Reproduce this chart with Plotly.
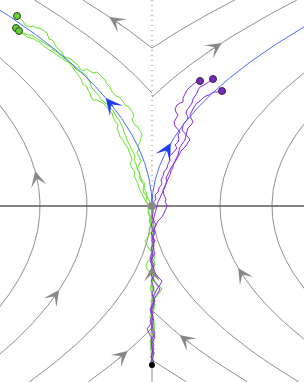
import numpy as np
import plotly.graph_objects as go

# ---------------- data (chart coordinates: origin = bifurcation point) ----------------
X_RANGE = [-152, 152]
Y_RANGE = [-176, 206]

# streamline family |x| = a*y^2 + C, different spread on each side
A_LEFT = 0.00396
A_RIGHT = 0.00474

left_crossings = [112, 65]          # |x| where "(" curves cut the horizontal axis
right_crossings = [68, 120]
left_top_vertices = [158, 113]      # y where the upper "V" curves leave the axis
right_top_vertices = [158, 109]
left_bottom_vertices = [0, -122]    # y where the lower curves join the axis
right_bottom_vertices = [0, -104, -154]

# gray arrows: side, family, parameter, y of arrow
arrow_side = ["L", "R", "L", "L", "L", "R", "R", "C"]
arrow_kind = ["top", "top", "cross", "cross", "bottom", "cross", "bottom", "axis"]
arrow_param = [158, 109, 112, 65, -122, 68, -104, 0]
arrow_y = [182, 156, 28, -91, -152, -69, -136, -67]

# blue arrows on the stable branches: side, y
blue_arrow_side = ["L", "R"]
blue_arrow_y = [100, 55]

# noisy trajectories: common lower part (y values) then individual x values
LOWER_Y = [-159, -155, -151, -147, -143, -139, -135, -131, -127, -123,
           -119, -115, -111, -107, -103, -99, -95, -91, -87, -83,
           -79, -75, -71, -67, -63, -59, -55, -51, -47, -43,
           -39, -35, -31, -27, -23, -19, -15, -11, -7, -3]

g1_lower_x = [0, 1, -1, 2, 0, -1, 1, 2, -1, 0, 2, 0, -2, 1, 2, 0, -1, 1, 3, 1,
              -1, 1, 0, -2, -5, -6, -4, -1, 0, -3, -5, -7, -4, -2, -3, -1, -3, -2, -4, -3]
g2_lower_x = [0, -1, 1, 0, -2, 0, 2, 1, -1, 1, 3, 1, -1, 0, 2, 3, 1, 4, 7, 10,
              6, 3, 1, 2, 0, -1, 1, 3, 1, -1, 0, 2, 1, -1, 1, 0, -2, -1, -3, -4]
g3_lower_x = [0, 2, 0, -1, 1, -1, -2, 0, 1, 3, 1, -1, -2, 0, 1, -1, 0, 2, 0, -2,
              -1, 1, 2, 0, 1, 3, 2, 0, -1, 1, 2, 0, -1, 1, 0, 2, 0, -1, 1, -1]
p1_lower_x = [0, -1, 1, 2, 0, -1, 1, 3, 1, -1, 0, 2, 1, -1, -2, 0, 2, 1, 3, 5,
              8, 10, 6, 3, 1, 2, 0, -2, 0, 2, 1, 3, 1, -1, 2, 4, 2, 0, 1, 1]
p2_lower_x = [0, 1, -1, 0, 2, 0, -1, 1, 3, 1, 0, -2, 0, 1, -1, 1, 3, 1, 0, 2,
              1, -1, 1, 3, 2, 0, -1, 1, 3, 1, 2, 0, 1, 3, 2, 4, 6, 10, 12, 14]
p3_lower_x = [0, 1, -1, 1, 0, 2, 0, -1, -3, -5, -2, 0, 1, -1, 0, 2, 1, 3, 6, 8,
              5, 2, 0, -1, 1, 0, -2, 0, 1, -1, 1, 2, 0, 2, 1, -1, 1, 2, 3, 4]

g1_upper = [(-4, 1), (-6, 5), (-5, 9), (-8, 13), (-9, 17), (-8, 21), (-11, 25), (-13, 29), (-12, 33),
            (-15, 37), (-13, 41), (-11, 45), (-13, 49), (-15, 54), (-13, 57), (-14, 60), (-12, 64),
            (-11, 68), (-10, 72), (-12, 75), (-14, 79), (-17, 81), (-19, 84), (-20, 87), (-18, 90),
            (-19, 93), (-21, 96), (-23, 99), (-27, 101), (-30, 106), (-33, 109), (-36, 110),
            (-39, 113), (-41, 116), (-42, 119), (-45, 122), (-47, 126), (-50, 129), (-52, 132),
            (-55, 134), (-59, 133), (-62, 135), (-65, 137), (-69, 135), (-72, 137), (-74, 141),
            (-77, 144), (-80, 146), (-83, 148), (-86, 148), (-89, 151), (-90, 154), (-93, 156),
            (-95, 159), (-97, 161), (-98, 164), (-100, 166), (-103, 167), (-104, 170), (-105, 173),
            (-108, 175), (-112, 178), (-115, 178), (-119, 180), (-123, 179), (-127, 181),
            (-129, 185), (-132, 188), (-135, 190)]
g2_upper = [(-4, 2), (-7, 6), (-9, 10), (-11, 14), (-13, 18), (-14, 22), (-16, 26), (-18, 30),
            (-17, 34), (-20, 38), (-22, 42), (-20, 46), (-21, 50), (-23, 54), (-24, 58), (-27, 62),
            (-29, 66), (-32, 69), (-33, 73), (-35, 77), (-34, 81), (-37, 85), (-39, 89), (-40, 93),
            (-43, 96), (-45, 99), (-48, 102), (-52, 104), (-55, 106), (-59, 106), (-61, 109),
            (-62, 113), (-64, 116), (-65, 119), (-68, 121), (-70, 124), (-71, 127), (-73, 130),
            (-76, 134), (-79, 137), (-81, 140), (-83, 143), (-85, 146), (-88, 148), (-92, 151),
            (-95, 154), (-99, 156), (-101, 159), (-105, 161), (-109, 164), (-113, 166), (-117, 169),
            (-120, 171), (-124, 171), (-129, 173), (-132, 176), (-136, 178)]
g3_upper = [(-2, 2), (-3, 6), (-5, 10), (-6, 14), (-8, 18), (-7, 22), (-10, 26), (-12, 30),
            (-13, 34), (-15, 38), (-16, 42), (-18, 46), (-17, 50), (-19, 54), (-21, 58), (-23, 62),
            (-25, 66), (-26, 70), (-28, 74), (-29, 78), (-31, 82), (-33, 86), (-36, 90), (-38, 94),
            (-42, 98), (-45, 102), (-49, 105), (-52, 109), (-54, 111), (-56, 114), (-58, 116),
            (-60, 118), (-61, 121), (-62, 124), (-64, 127), (-66, 131), (-69, 133), (-71, 134),
            (-75, 136), (-78, 139), (-80, 142), (-84, 144), (-87, 145), (-89, 147), (-92, 149),
            (-95, 151), (-99, 153), (-102, 155), (-104, 157), (-108, 159), (-110, 161), (-112, 164),
            (-115, 165), (-118, 167), (-122, 168), (-125, 169), (-127, 171), (-130, 173), (-133, 175)]

p1_upper = [(1, 3), (4, 7), (3, 11), (6, 14), (7, 18), (10, 22), (9, 26), (11, 30), (12, 34),
            (15, 38), (16, 42), (18, 46), (17, 50), (20, 52), (23, 55), (25, 58), (23, 61), (26, 64),
            (27, 67), (26, 71), (28, 74), (25, 77), (23, 80), (22, 84), (24, 88), (26, 91), (24, 94),
            (23, 97), (25, 101), (28, 103), (31, 104), (31, 108), (33, 112), (35, 116), (38, 119),
            (41, 122), (44, 124), (48, 125)]
p2_upper = [(15, 1), (13, 4), (14, 7), (12, 11), (11, 16), (13, 20), (15, 24), (14, 28), (16, 32),
            (18, 36), (20, 40), (23, 44), (25, 47), (27, 51), (29, 55), (31, 57), (34, 60), (36, 64),
            (38, 66), (36, 69), (33, 72), (30, 76), (31, 80), (32, 83), (35, 86), (36, 89), (34, 93),
            (35, 96), (38, 100), (40, 103), (41, 107), (43, 110), (45, 113), (46, 116), (48, 119),
            (52, 121), (55, 123), (58, 125), (61, 127)]
p3_upper = [(5, 1), (6, 4), (8, 8), (9, 11), (11, 15), (13, 19), (14, 23), (16, 27), (18, 31),
            (19, 35), (21, 39), (22, 43), (24, 47), (26, 51), (27, 55), (28, 59), (30, 62), (33, 66),
            (34, 71), (35, 75), (36, 78), (39, 81), (41, 84), (39, 88), (38, 91), (40, 95), (42, 99),
            (45, 103), (48, 105), (51, 108), (54, 110), (57, 111), (60, 113), (63, 114), (66, 114),
            (70, 115)]

start_point = (0, -159)

# ---------------- style ----------------
GRAY = "#8f8f8f"
AXIS = "#5a5a5a"
GREEN = "#66e22e"
PURPLE = "#8a2be2"
BLUE_LINE = "#4a6bff"
BLUE_ARROW = "#1f3cf5"


def coef(side):
    return A_LEFT if side == "L" else A_RIGHT


def sgn(side):
    return -1.0 if side == "L" else 1.0


def curve_x(side, kind, p, y):
    a = coef(side)
    if kind == "cross":
        return sgn(side) * (p + a * y * y)
    if kind == "axis":
        return 0.0 * y
    return sgn(side) * a * (y * y - p * p)


def curve_y(kind, p):
    if kind == "cross":
        return np.linspace(Y_RANGE[0], Y_RANGE[1], 400)
    if kind == "top":
        return np.linspace(p, Y_RANGE[1], 300)
    return np.linspace(Y_RANGE[0], p, 300)


fig = go.Figure()


def add_line(x, y, color, width=1.0, dash=None):
    fig.add_trace(go.Scatter(x=x, y=y, mode="lines", hoverinfo="skip",
                             line=dict(color=color, width=width, dash=dash)))


# gray streamlines
families = [("L", "cross", left_crossings), ("R", "cross", right_crossings),
            ("L", "top", left_top_vertices), ("R", "top", right_top_vertices),
            ("L", "bottom", left_bottom_vertices), ("R", "bottom", right_bottom_vertices)]
for side, kind, params in families:
    for p in params:
        ys = curve_y(kind, p)
        add_line(curve_x(side, kind, p, ys), ys, GRAY, 1.0)

# axes
add_line([0, 0], [Y_RANGE[0], 0], GRAY, 1.0)
add_line([0, 0], [0, Y_RANGE[1]], "#9a9a9a", 1.3, dash="1px,4px")
add_line([X_RANGE[0], X_RANGE[1]], [0, 0], AXIS, 1.3)


def traj(lower_x, upper):
    xs = [start_point[0]] + list(lower_x) + [q[0] for q in upper]
    ys = [start_point[1]] + list(LOWER_Y) + [q[1] for q in upper]
    return xs, ys


for lx, up in [(g1_lower_x, g1_upper), (g2_lower_x, g2_upper), (g3_lower_x, g3_upper)]:
    xs, ys = traj(lx, up)
    add_line(xs, ys, GREEN, 1.0)
for lx, up in [(p1_lower_x, p1_upper), (p2_lower_x, p2_upper), (p3_lower_x, p3_upper)]:
    xs, ys = traj(lx, up)
    add_line(xs, ys, PURPLE, 1.0)

# blue stable branches
for side in ["L", "R"]:
    ys = curve_y("top", 0)
    add_line(curve_x(side, "top", 0, ys), ys, BLUE_LINE, 1.0)

# markers
fig.add_trace(go.Scatter(x=[0], y=[0], mode="markers", hoverinfo="skip",
                         marker=dict(size=8, color="#8a8a8a")))
fig.add_trace(go.Scatter(x=[start_point[0]], y=[start_point[1]], mode="markers", hoverinfo="skip",
                         marker=dict(size=6, color="black")))
fig.add_trace(go.Scatter(x=[g1_upper[-1][0], g2_upper[-1][0], g3_upper[-1][0]],
                         y=[g1_upper[-1][1], g2_upper[-1][1], g3_upper[-1][1]],
                         mode="markers", hoverinfo="skip",
                         marker=dict(size=7, color="#5ed42c", line=dict(color="#3a3a3a", width=1))))
fig.add_trace(go.Scatter(x=[p1_upper[-1][0], p2_upper[-1][0], p3_upper[-1][0]],
                         y=[p1_upper[-1][1], p2_upper[-1][1], p3_upper[-1][1]],
                         mode="markers", hoverinfo="skip",
                         marker=dict(size=7, color="#7a26c9", line=dict(color="#2e2e2e", width=1))))

# arrows
annotations = []
for side, kind, p, yc in zip(arrow_side, arrow_kind, arrow_param, arrow_y):
    yt, ya = yc + 7, yc - 2
    annotations.append(dict(
        x=float(curve_x(side, kind, p, yt)), y=yt,
        ax=float(curve_x(side, kind, p, ya)), ay=ya,
        xref="x", yref="y", axref="x", ayref="y", text="",
        showarrow=True, arrowhead=3, arrowsize=2.6, arrowwidth=1, arrowcolor="#888888"))
for side, yc in zip(blue_arrow_side, blue_arrow_y):
    yt, ya = yc + 8, yc - 2
    annotations.append(dict(
        x=float(curve_x(side, "top", 0, yt)), y=yt,
        ax=float(curve_x(side, "top", 0, ya)), ay=ya,
        xref="x", yref="y", axref="x", ayref="y", text="",
        showarrow=True, arrowhead=3, arrowsize=2.8, arrowwidth=1, arrowcolor=BLUE_ARROW))

fig.update_layout(
    width=304, height=382,
    margin=dict(l=0, r=0, t=0, b=0),
    paper_bgcolor="white", plot_bgcolor="white",
    showlegend=False,
    xaxis=dict(range=X_RANGE, visible=False, fixedrange=True),
    yaxis=dict(range=Y_RANGE, visible=False, fixedrange=True),
    annotations=annotations,
)

fig.write_html("out.html", config={"displayModeBar": False},
               post_script="document.body.style.margin='0px';document.body.style.overflow='hidden';")
